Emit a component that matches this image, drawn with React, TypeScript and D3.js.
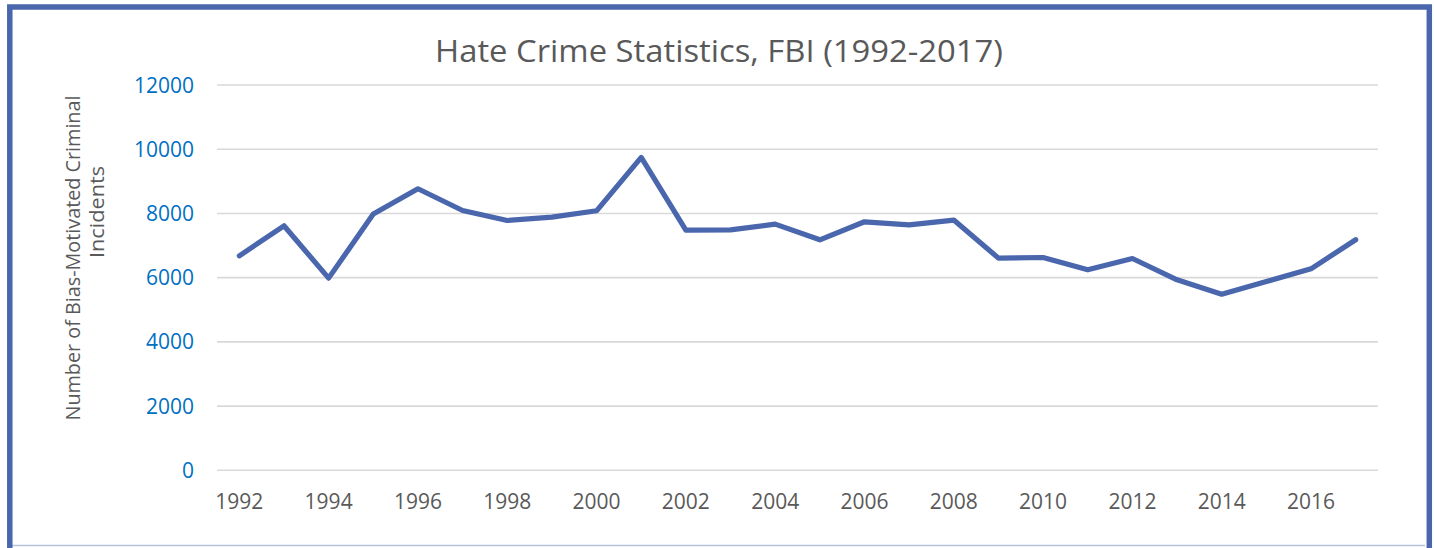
import React from "react";
import * as d3 from "d3";

const years = d3.range(1992, 2018).map(String);
const incidents = [6680, 7615, 5985, 7980, 8768, 8092, 7780, 7886, 8082, 9744, 7481, 7490, 7668, 7178, 7740, 7646, 7793, 6608, 6627, 6243, 6596, 5932, 5486, 5879, 6275, 7180];
const yTicks = [0, 2000, 4000, 6000, 8000, 10000, 12000];
const xTickLabels = ["1992", "1994", "1996", "1998", "2000", "2002", "2004", "2006", "2008", "2010", "2012", "2014", "2016"];
const title = "Hate Crime Statistics, FBI (1992-2017)";
const yTitle1 = "Number of Bias-Motivated Criminal";
const yTitle2 = "Incidents";

const W = 1434;
const H = 548;
const plot = { left: 217, right: 1378, top: 85, bottom: 470.3 };
const FONT = "'Open Sans', 'Noto Sans', sans-serif";

export default function App() {
  const x = d3.scaleBand<string>().domain(years).range([plot.left, plot.right]);
  const y = d3.scaleLinear().domain([0, 12000]).range([plot.bottom, plot.top]);
  const cx = (d: string) => (x(d) as number) + x.bandwidth() / 2;
  const line = d3
    .line<number>()
    .x((_, i) => cx(years[i]))
    .y((d) => y(d));

  return (
    <svg
      width={W}
      height={H}
      style={{ position: "absolute", left: 0, top: 0, background: "#fff" }}
      fontFamily={FONT}
    >
      <rect x={0} y={0} width={W} height={H} fill="#fff" />
      <line x1={12} x2={1425} y1={545.5} y2={545.5} stroke="#b4c2de" strokeWidth={1.5} />
      <rect x={9.8} y={7} width={1419.5} height={580} fill="none" stroke="#4a67ad" strokeWidth={5.5} />

      <text
        x={719}
        y={62}
        textAnchor="middle"
        fontSize={31}
        fill="#595959"
        textLength={568}
        lengthAdjust="spacingAndGlyphs"
      >
        {title}
      </text>

      {yTicks.map((t) => (
        <g key={t}>
          <line x1={plot.left} x2={plot.right} y1={y(t)} y2={y(t)} stroke="#d9d9d9" strokeWidth={1.6} />
          <text x={194} y={y(t)} dy="0.36em" textAnchor="end" fontSize={21} fill="#0070c0">
            {t}
          </text>
        </g>
      ))}

      {xTickLabels.map((l) => (
        <text key={l} x={cx(l)} y={509} textAnchor="middle" fontSize={21} fill="#595959">
          {l}
        </text>
      ))}

      <text
        transform={`translate(80,258) rotate(-90)`}
        textAnchor="middle"
        fontSize={20}
        fill="#595959"
        textLength={325}
        lengthAdjust="spacingAndGlyphs"
      >
        {yTitle1}
      </text>
      <text
        transform={`translate(104,212) rotate(-90)`}
        textAnchor="middle"
        fontSize={20}
        fill="#595959"
        textLength={92}
        lengthAdjust="spacingAndGlyphs"
      >
        {yTitle2}
      </text>

      <path
        d={line(incidents) || ""}
        fill="none"
        stroke="#4a67ad"
        strokeWidth={5.2}
        strokeLinejoin="round"
        strokeLinecap="round"
      />
    </svg>
  );
}
